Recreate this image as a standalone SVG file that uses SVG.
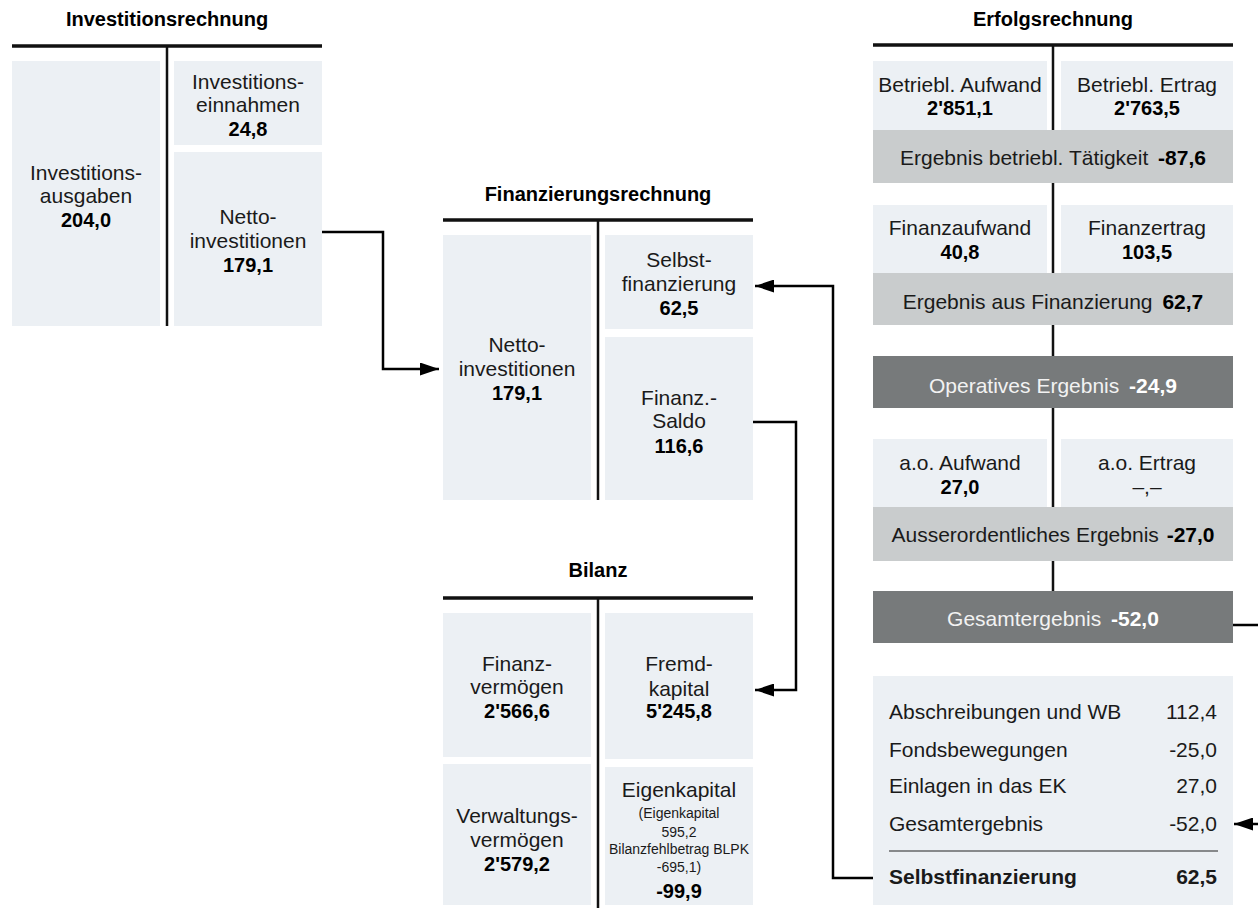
<svg xmlns="http://www.w3.org/2000/svg" width="1258" height="908" viewBox="0 0 1258 908">
<style>
text{font-family:"Liberation Sans",Arial,sans-serif;fill:#1a1a1a}
.t{font-size:20px;font-weight:bold;text-anchor:middle;fill:#000}
.r{font-size:21px;text-anchor:middle}
.b{font-size:20px;font-weight:bold;text-anchor:middle;fill:#000}
.s{font-size:14px;text-anchor:middle}
.w{fill:#f2f2f2}
.wb{font-weight:bold;fill:#fff}
.box{fill:#ecf0f4}
.band{fill:#c9cccd}
.dark{fill:#777a7b}
.hl{stroke:#111;stroke-width:3.5;fill:none}
.vl{stroke:#111;stroke-width:2.5;fill:none}
.con{stroke:#000;stroke-width:2.5;fill:none}
.tl{font-size:21px}
.tr{font-size:21px;text-anchor:end}
</style>
<defs>
<marker id="ah" markerUnits="userSpaceOnUse" markerWidth="19" markerHeight="13" refX="19" refY="6.5" orient="auto">
<path d="M0,0 L19,6.5 L0,13 z" fill="#000"/>
</marker>
</defs>

<g id="investitionsrechnung">
<text class="t" x="167" y="26">Investitionsrechnung</text>
<rect class="box" x="12" y="61" width="148" height="265"/>
<rect class="box" x="174" y="61" width="148" height="84"/>
<rect class="box" x="174" y="152" width="148" height="174"/>
<line class="hl" x1="12" y1="46" x2="322" y2="46"/>
<line class="vl" x1="167" y1="46" x2="167" y2="326"/>
<text class="r" x="86" y="180">Investitions-</text>
<text class="r" x="86" y="203">ausgaben</text>
<text class="b" x="86" y="227">204,0</text>
<text class="r" x="248" y="89">Investitions-</text>
<text class="r" x="248" y="112">einnahmen</text>
<text class="b" x="248" y="136">24,8</text>
<text class="r" x="248" y="224">Netto-</text>
<text class="r" x="248" y="248">investitionen</text>
<text class="b" x="248" y="272">179,1</text>
</g>

<g id="finanzierungsrechnung">
<text class="t" x="598" y="201">Finanzierungsrechnung</text>
<rect class="box" x="443" y="235" width="148" height="265"/>
<rect class="box" x="605" y="235" width="148" height="94"/>
<rect class="box" x="605" y="337" width="148" height="163"/>
<line class="hl" x1="443" y1="220" x2="753" y2="220"/>
<line class="vl" x1="598" y1="220" x2="598" y2="500"/>
<text class="r" x="517" y="352">Netto-</text>
<text class="r" x="517" y="376">investitionen</text>
<text class="b" x="517" y="400">179,1</text>
<text class="r" x="679" y="267">Selbst-</text>
<text class="r" x="679" y="291">finanzierung</text>
<text class="b" x="679" y="315">62,5</text>
<text class="r" x="679" y="405">Finanz.-</text>
<text class="r" x="679" y="428">Saldo</text>
<text class="b" x="679" y="453">116,6</text>
</g>

<g id="bilanz">
<text class="t" x="598" y="577">Bilanz</text>
<rect class="box" x="443" y="613" width="148" height="144"/>
<rect class="box" x="443" y="764" width="148" height="141"/>
<rect class="box" x="605" y="613" width="148" height="146"/>
<rect class="box" x="605" y="767" width="148" height="138"/>
<line class="hl" x1="443" y1="598" x2="753" y2="598"/>
<line class="vl" x1="598" y1="598" x2="598" y2="908"/>
<text class="r" x="517" y="671">Finanz-</text>
<text class="r" x="517" y="694">vermögen</text>
<text class="b" x="517" y="718">2'566,6</text>
<text class="r" x="679" y="671">Fremd-</text>
<text class="r" x="679" y="696">kapital</text>
<text class="b" x="679" y="718">5'245,8</text>
<text class="r" x="517" y="823">Verwaltungs-</text>
<text class="r" x="517" y="847">vermögen</text>
<text class="b" x="517" y="871">2'579,2</text>
<text class="r" x="679" y="797">Eigenkapital</text>
<text class="s" x="679" y="818">(Eigenkapital</text>
<text class="s" x="679" y="837">595,2</text>
<text class="s" x="679" y="854">Bilanzfehlbetrag BLPK</text>
<text class="s" x="679" y="872">-695,1)</text>
<text class="b" x="679" y="898">-99,9</text>
</g>

<g id="erfolgsrechnung">
<text class="t" x="1053" y="26">Erfolgsrechnung</text>
<line class="vl" x1="1053" y1="45" x2="1053" y2="591"/>
<rect class="box" x="873" y="61" width="174" height="69"/>
<rect class="box" x="1061" y="61" width="172" height="69"/>
<rect class="band" x="873" y="130" width="360" height="53"/>
<rect class="box" x="873" y="205" width="174" height="68"/>
<rect class="box" x="1061" y="205" width="172" height="68"/>
<rect class="band" x="873" y="273" width="360" height="52"/>
<rect class="dark" x="873" y="356" width="360" height="52"/>
<rect class="box" x="873" y="439" width="174" height="68"/>
<rect class="box" x="1061" y="439" width="172" height="68"/>
<rect class="band" x="873" y="507" width="360" height="54"/>
<rect class="dark" x="873" y="591" width="360" height="52"/>
<line class="hl" x1="873" y1="45" x2="1233" y2="45"/>
<text class="r" x="960" y="92">Betriebl. Aufwand</text>
<text class="b" x="960" y="115">2'851,1</text>
<text class="r" x="1147" y="92">Betriebl. Ertrag</text>
<text class="b" x="1147" y="115">2'763,5</text>
<text class="r" x="1053" y="165">Ergebnis betriebl. Tätigkeit <tspan font-weight="bold" fill="#000" dx="4">-87,6</tspan></text>
<text class="r" x="960" y="235">Finanzaufwand</text>
<text class="b" x="960" y="259">40,8</text>
<text class="r" x="1147" y="235">Finanzertrag</text>
<text class="b" x="1147" y="259">103,5</text>
<text class="r" x="1053" y="309">Ergebnis aus Finanzierung <tspan font-weight="bold" fill="#000" dx="4">62,7</tspan></text>
<text class="r w" x="1053" y="393">Operatives Ergebnis <tspan class="wb" dx="4">-24,9</tspan></text>
<text class="r" x="960" y="470">a.o. Aufwand</text>
<text class="b" x="960" y="494">27,0</text>
<text class="r" x="1147" y="470">a.o. Ertrag</text>
<text class="r" x="1147" y="494">–,–</text>
<text class="r" x="1053" y="542">Ausserordentliches Ergebnis <tspan font-weight="bold" fill="#000" dx="2">-27,0</tspan></text>
<text class="r w" x="1053" y="626">Gesamtergebnis <tspan class="wb" dx="4">-52,0</tspan></text>
</g>

<g id="selbstfinanzierung-tabelle">
<rect class="box" x="873" y="676" width="360" height="229"/>
<text class="tl" x="889" y="719">Abschreibungen und WB</text>
<text class="tr" x="1217" y="719">112,4</text>
<text class="tl" x="889" y="757">Fondsbewegungen</text>
<text class="tr" x="1217" y="757">-25,0</text>
<text class="tl" x="889" y="793">Einlagen in das EK</text>
<text class="tr" x="1217" y="793">27,0</text>
<text class="tl" x="889" y="831">Gesamtergebnis</text>
<text class="tr" x="1217" y="831">-52,0</text>
<line x1="889" y1="851" x2="1218" y2="851" stroke="#222" stroke-width="1.2"/>
<text class="tl" x="889" y="884" font-weight="bold" fill="#000">Selbstfinanzierung</text>
<text class="tr" x="1217" y="884" font-weight="bold" fill="#000">62,5</text>
</g>

<g id="connectors">
<path class="con" d="M322,232 H383 V369 H439" marker-end="url(#ah)"/>
<path class="con" d="M873,878 H833 V286 H755" marker-end="url(#ah)"/>
<path class="con" d="M753,422 H796 V690 H755" marker-end="url(#ah)"/>
<path class="con" d="M1233,625 H1264 V824 H1234" marker-end="url(#ah)"/>
</g>
</svg>
